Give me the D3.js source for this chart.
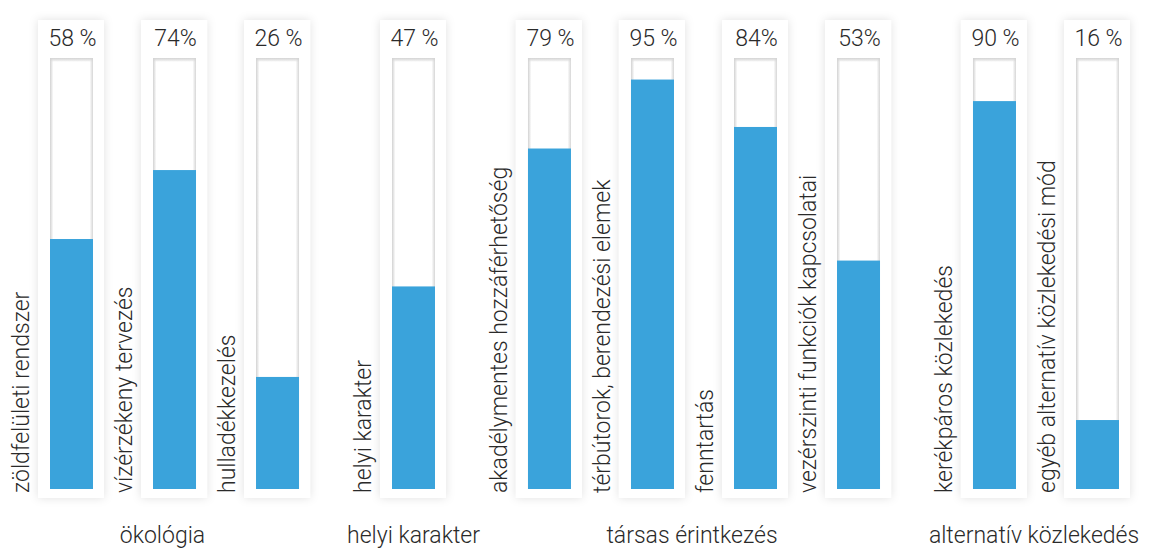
<!DOCTYPE html>
<html>
<head>
<meta charset="utf-8">
<script src="https://cdn.jsdelivr.net/npm/d3@7"></script>
<style>
  html, body { margin: 0; padding: 0; background: #fff; }
  svg { display: block; }
  text { font-family: Roboto, "Open Sans", sans-serif; fill: #2a2a2a; }
</style>
</head>
<body>
<svg id="chart" width="1151" height="548"></svg>
<script>
// Survey results: share of respondents per topic, grouped by theme
const categories = [
  "zöldfelületi rendszer", "vízérzékeny tervezés", "hulladékkezelés",
  "helyi karakter",
  "akadélymentes hozzáférhetőség", "térbútorok, berendezési elemek", "fenntartás", "vezérszinti funkciók kapcsolatai",
  "kerékpáros közlekedés", "egyéb alternatív közlekedési mód"
];
const values = [58, 74, 26, 47, 79, 95, 84, 53, 90, 16];
const valueLabels = ["58 %", "74%", "26 %", "47 %", "79 %", "95 %", "84%", "53%", "90 %", "16 %"];
const groupOf = [0, 0, 0, 1, 2, 2, 2, 2, 3, 3];
const groups = ["ökológia", "helyi karakter", "társas érintkezés", "alternatív közlekedés"];

const svg = d3.select("#chart");

// Slot position: one unit per bar plus an extra gap between theme groups
const groupGap = 0.32;
const slot = categories.map((c, i) => i + groupOf[i] * groupGap);
const x = d3.scaleLinear()
  .domain([0, slot[slot.length - 1]])
  .range([71.5, 1097.5]);

const y = d3.scaleLinear().domain([0, 100]).range([489, 58]);

const trackW = 43;
const cardPadL = 12, cardW = 66;
const cardTop = 20, cardBottom = 498;
const barColor = "#3aa3db";
const fontSize = 23;

const defs = svg.append("defs");
const shadow = defs.append("filter").attr("id", "cardShadow")
  .attr("x", "-30%").attr("y", "-10%").attr("width", "160%").attr("height", "120%");
shadow.append("feDropShadow")
  .attr("dx", 0).attr("dy", 0).attr("stdDeviation", 5)
  .attr("flood-color", "#000").attr("flood-opacity", 0.12);

// Inset shading for the empty track
const insetH = defs.append("linearGradient").attr("id", "insetH").attr("x1", 0).attr("x2", 1);
insetH.append("stop").attr("offset", 0).attr("stop-color", "#d2d2d2");
insetH.append("stop").attr("offset", 0.07).attr("stop-color", "#fafafa");
insetH.append("stop").attr("offset", 0.93).attr("stop-color", "#fafafa");
insetH.append("stop").attr("offset", 1).attr("stop-color", "#d6d6d6");
const insetV = defs.append("linearGradient").attr("id", "insetV").attr("x1", 0).attr("x2", 0).attr("y1", 0).attr("y2", 1);
insetV.append("stop").attr("offset", 0).attr("stop-color", "#d4d4d4");
insetV.append("stop").attr("offset", 1).attr("stop-color", "#d4d4d4").attr("stop-opacity", 0);

const item = svg.selectAll("g.item")
  .data(categories.map((c, i) => ({ name: c, value: values[i], label: valueLabels[i], cx: x(slot[i]) })))
  .join("g").attr("class", "item");

// White card behind each bar
item.append("rect")
  .attr("x", d => d.cx - trackW / 2 - cardPadL)
  .attr("y", cardTop)
  .attr("width", cardW)
  .attr("height", cardBottom - cardTop)
  .attr("fill", "#fff")
  .attr("filter", "url(#cardShadow)");

// Track (0–100 %)
item.append("rect")
  .attr("x", d => d.cx - trackW / 2)
  .attr("y", y(100))
  .attr("width", trackW)
  .attr("height", y(0) - y(100))
  .attr("fill", "url(#insetH)");
item.append("rect")
  .attr("x", d => d.cx - trackW / 2 + 3)
  .attr("y", y(100) + 3)
  .attr("width", trackW - 6)
  .attr("height", y(0) - y(100) - 3)
  .attr("fill", "#fff");
item.append("rect")
  .attr("x", d => d.cx - trackW / 2)
  .attr("y", y(100))
  .attr("width", trackW)
  .attr("height", 4)
  .attr("fill", "url(#insetV)");

// Value bar
item.append("rect")
  .attr("x", d => d.cx - trackW / 2)
  .attr("y", d => y(d.value))
  .attr("width", trackW)
  .attr("height", d => y(0) - y(d.value))
  .attr("fill", barColor);

// Percentage label
item.append("text")
  .attr("x", d => d.cx + 1)
  .attr("y", 46)
  .attr("text-anchor", "middle")
  .attr("font-size", fontSize)
  .attr("font-weight", 300)
  .text(d => d.label);

// Rotated topic label
item.append("text")
  .attr("transform", d => `translate(${d.cx - trackW / 2 - 21},${y(0) + 4}) rotate(-90)`)
  .attr("font-size", fontSize)
  .attr("font-weight", 300)
  .text(d => d.name);

// Theme labels under each group
svg.selectAll("text.group")
  .data(groups)
  .join("text").attr("class", "group")
  .attr("x", (g, gi) => {
    const idx = groupOf.map((v, i) => v === gi ? i : -1).filter(i => i >= 0);
    const mid = (x(slot[idx[0]]) + x(slot[idx[idx.length - 1]])) / 2;
    return idx.length > 1 ? mid - 12 : mid;
  })
  .attr("y", 543)
  .attr("text-anchor", "middle")
  .attr("font-size", fontSize)
  .attr("font-weight", 300)
  .text(g => g);
</script>
</body>
</html>
